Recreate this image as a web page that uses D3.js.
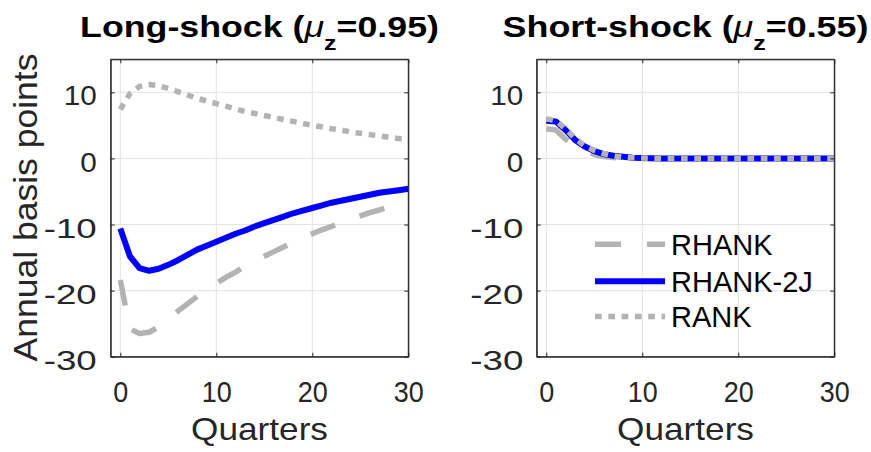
<!DOCTYPE html>
<html>
<head>
<meta charset="utf-8">
<script src="https://cdn.jsdelivr.net/npm/d3@7"></script>
<style>
  body { margin: 0; background: #fff; }
  svg { display: block; font-family: "Liberation Sans", Arial, Helvetica, sans-serif; }
</style>
</head>
<body>
<svg id="chart" width="871" height="452"></svg>
<script>
// quarters on the x axis
const quarters = d3.range(0, 31);

// long shock (mu_z = 0.95), annual basis points
const longRHANK = [-18.4, -25.8, -26.5, -26.3, -25.5, -24.3, -23.1, -22.0, -20.9, -19.9, -18.9,
  -18.0, -17.2, -16.3, -15.5, -14.8, -14.1, -13.4, -12.7, -12.0, -11.4,
  -10.8, -10.3, -9.7, -9.2, -8.7, -8.2, -7.8, -7.3, -6.9, -6.5];
const longRHANK2J = [-10.6, -14.8, -16.6, -17.0, -16.7, -16.1, -15.4, -14.6, -13.8, -13.2, -12.6,
  -12.0, -11.4, -10.9, -10.3, -9.8, -9.3, -8.8, -8.3, -7.9, -7.5,
  -7.1, -6.7, -6.4, -6.1, -5.8, -5.5, -5.2, -5.0, -4.8, -4.6];
const longRANK = [7.4, 9.8, 10.9, 11.2, 11.0, 10.6, 10.1, 9.6, 9.1, 8.7, 8.3,
  7.9, 7.5, 7.1, 6.8, 6.5, 6.2, 5.9, 5.6, 5.3, 5.0,
  4.8, 4.5, 4.3, 4.0, 3.8, 3.6, 3.4, 3.2, 3.0, 2.9];

// short shock (mu_z = 0.55)
const shortRHANK = [4.5, 4.3, 2.9, 2.0, 1.2, 0.6, 0.3, 0.15, 0.05, 0.02, 0,
  0, 0, 0, 0, 0, 0, 0, 0, 0, 0,
  0, 0, 0, 0, 0, 0, 0, 0, 0, 0];
const shortRHANK2J = [5.7, 5.6, 4.3, 2.8, 1.8, 1.1, 0.65, 0.4, 0.25, 0.12, 0.05,
  0.02, 0, 0, 0, 0, 0, 0, 0, 0, 0,
  0, 0, 0, 0, 0, 0, 0, 0, 0, 0];
const shortRANK = [6.0, 5.7, 4.5, 3.0, 1.9, 1.2, 0.7, 0.4, 0.2, 0.1, 0.05,
  0.02, 0, 0, 0, 0, 0, 0, 0, 0, 0,
  0, 0, 0, 0, 0, 0, 0, 0, 0, 0];

const seriesNames = ["RHANK", "RHANK-2J", "RANK"];
const xTicks = [0, 10, 20, 30];
const yTicks = [-30, -20, -10, 0, 10];

const styles = {
  "RHANK": { color: "#b3b3b3", width: 5.5, dash: "26,26" },
  "RHANK-2J": { color: "#0000ff", width: 6, dash: null },
  "RANK": { color: "#b3b3b3", width: 5.5, dash: "6.7,6.6" }
};

const svg = d3.select("#chart");
const axisColor = "#262626";

const plotTop = 59.3, plotBottom = 356.7;

const panels = [
  { title: ["Long-shock (", "0.95)"], left: 110.7, right: 408.3, titleW: 359,
    series: [longRHANK, longRHANK2J, longRANK], xlabelW: 137 },
  { title: ["Short-shock (", "0.55)"], left: 536.7, right: 834.3, titleW: 366,
    series: [shortRHANK, shortRHANK2J, shortRANK], xlabelW: 137 }
];

// squeeze / stretch a text group to a measured width
const fitWidth = (g, target) => {
  const w = g.node().getBBox().width;
  return w > 0 ? target / w : 1;
};

// plain hyphen for negatives, like the original
const fmt = (d) => String(d);

panels.forEach((p, pi) => {
  const x = d3.scaleLinear().domain([-1, 30]).range([p.left, p.right]);
  const y = d3.scaleLinear().domain([-30, 15]).range([plotBottom, plotTop]);

  const g = svg.append("g");

  // grid
  g.selectAll(".gx").data(xTicks).enter().append("line")
    .attr("x1", (d) => x(d)).attr("x2", (d) => x(d))
    .attr("y1", plotTop).attr("y2", plotBottom)
    .attr("stroke", "#e3e3e3").attr("stroke-width", 1);
  g.selectAll(".gy").data(yTicks).enter().append("line")
    .attr("x1", p.left).attr("x2", p.right)
    .attr("y1", (d) => y(d)).attr("y2", (d) => y(d))
    .attr("stroke", "#e3e3e3").attr("stroke-width", 1);

  // lines
  const line = d3.line()
    .x((d, i) => x(quarters[i]))
    .y((d) => y(d));

  const clipId = "clip" + pi;
  svg.append("clipPath").attr("id", clipId).append("rect")
    .attr("x", p.left).attr("y", plotTop)
    .attr("width", p.right - p.left).attr("height", plotBottom - plotTop);

  const lines = g.append("g").attr("clip-path", `url(#${clipId})`);
  p.series.forEach((values, si) => {
    const st = styles[seriesNames[si]];
    lines.append("path")
      .datum(values)
      .attr("d", line)
      .attr("fill", "none")
      .attr("stroke", st.color)
      .attr("stroke-width", st.width)
      .attr("stroke-dasharray", st.dash)
      .attr("stroke-linejoin", "round");
  });

  // box + inward ticks
  const tickLen = 4;
  const axes = [
    { axis: d3.axisLeft(y), tr: `translate(${p.left},0)`, vals: yTicks },
    { axis: d3.axisRight(y), tr: `translate(${p.right},0)`, vals: yTicks },
    { axis: d3.axisBottom(x), tr: `translate(0,${plotBottom})`, vals: xTicks },
    { axis: d3.axisTop(x), tr: `translate(0,${plotTop})`, vals: xTicks }
  ];
  axes.forEach((a) => {
    const ag = g.append("g").attr("transform", a.tr)
      .call(a.axis.tickValues(a.vals).tickSizeInner(-tickLen).tickSizeOuter(0).tickFormat(""));
    ag.selectAll("path, line").attr("stroke", axisColor).attr("stroke-width", 1);
    ag.selectAll("text").remove();
  });
  g.append("rect")
    .attr("x", p.left).attr("y", plotTop)
    .attr("width", p.right - p.left).attr("height", plotBottom - plotTop)
    .attr("fill", "none").attr("stroke", axisColor).attr("stroke-width", 1);

  // tick labels
  const yl = g.append("g").attr("transform", `translate(${p.left},0)`)
    .call(d3.axisLeft(y).tickValues(yTicks).tickFormat(fmt).tickSize(0)
      .tickPadding(pi === 0 ? 14 : 13.4));
  yl.select(".domain").remove();
  yl.selectAll("text")
    .attr("dy", "0.45em")
    .attr("fill", axisColor)
    .style("font-size", "28px")
    .attr("font-family", null)
    .attr("textLength", (d) => String(Math.abs(d)).length * 16.5 + (d < 0 ? 20 : 0))
    .attr("lengthAdjust", "spacingAndGlyphs");

  const xl = g.append("g").attr("transform", `translate(0,${plotBottom})`)
    .call(d3.axisBottom(x).tickValues(xTicks).tickFormat(fmt).tickSize(0));
  xl.select(".domain").remove();
  xl.selectAll("text")
    .attr("y", 45).attr("dy", 0)
    .attr("fill", axisColor)
    .style("font-size", "30px")
    .attr("font-family", null)
    .attr("textLength", (d) => String(d).length * 15)
    .attr("lengthAdjust", "spacingAndGlyphs");

  // x label
  const cx = (p.left + p.right) / 2;
  const xlab = g.append("g");
  xlab.append("text")
    .attr("text-anchor", "middle")
    .attr("fill", axisColor)
    .style("font-size", "31px")
    .text("Quarters");
  xlab.attr("transform", `translate(${cx},440) scale(${fitWidth(xlab, p.xlabelW)},1)`);

  // title with mu_z
  const tg = g.append("g");
  const tt = tg.append("text")
    .attr("text-anchor", "middle")
    .attr("fill", "#000")
    .style("font-size", "30px")
    .style("font-weight", "bold");
  tt.append("tspan").text(p.title[0]);
  tt.append("tspan").style("font-style", "italic").style("font-weight", "normal").text("μ");
  tt.append("tspan").attr("dy", 13).style("font-size", "21px").text("z");
  tt.append("tspan").attr("dy", -13).text("=" + p.title[1]);
  tg.attr("transform", `translate(${cx},36.7) scale(${fitWidth(tg, p.titleW)},1)`);
});

// y label
const ylab = svg.append("g");
ylab.append("text")
  .attr("text-anchor", "middle")
  .attr("fill", axisColor)
  .style("font-size", "33px")
  .text("Annual basis points");
ylab.attr("transform", `translate(37,207.5) rotate(-90) scale(${fitWidth(ylab, 308)},1)`);

// legend inside the right panel
const legendRows = [244.3, 281.3, 316.5];
const legend = svg.append("g");
seriesNames.forEach((name, i) => {
  const st = styles[name];
  legend.append("line")
    .attr("x1", 595).attr("x2", 665)
    .attr("y1", legendRows[i]).attr("y2", legendRows[i])
    .attr("stroke", st.color)
    .attr("stroke-width", st.width)
    .attr("stroke-dasharray", st.dash);
  legend.append("text")
    .attr("x", 671)
    .attr("y", legendRows[i] + 10.5)
    .attr("fill", "#000")
    .style("font-size", "29px")
    .text(name);
});
</script>
</body>
</html>
